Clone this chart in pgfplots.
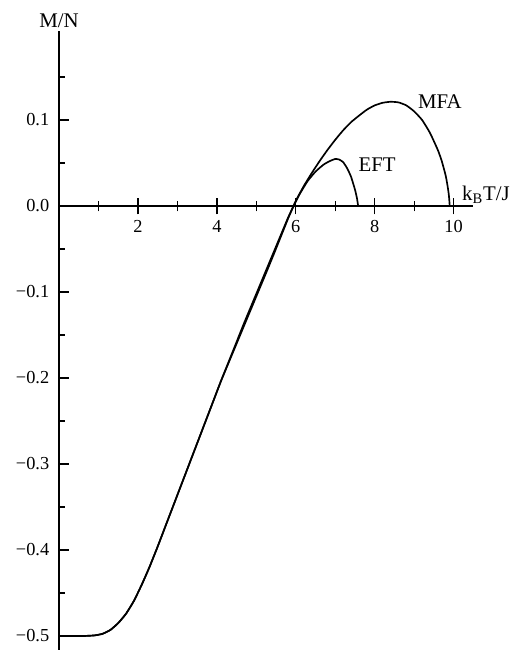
\documentclass[border=0pt]{standalone}
\usepackage{pgfplots}
\pgfplotsset{compat=1.18}
\usepackage{fontspec}
\setmainfont{Liberation Serif}
\pgfplotstableread{
x y
0.0 -0.5000
0.6 -0.5000
0.9 -0.4993
1.1 -0.4975
1.3 -0.4930
1.5 -0.4850
1.7 -0.4740
1.9 -0.4590
2.1 -0.4400
2.3 -0.4190
2.5 -0.3960
2.7 -0.3720
2.9 -0.3480
3.1 -0.3240
3.3 -0.3000
3.5 -0.2760
3.7 -0.2520
3.9 -0.2280
4.1 -0.2040
4.3 -0.1810
4.5 -0.1580
4.7 -0.1350
4.9 -0.1130
5.1 -0.0910
5.3 -0.0690
5.5 -0.0470
5.7 -0.0250
5.8 -0.0140
5.9 -0.0040
6.0 0.0060
6.2 0.0230
6.4 0.0380
6.6 0.0520
6.8 0.0650
7.0 0.0770
7.2 0.0880
7.4 0.0975
7.6 0.1050
7.8 0.1120
8.0 0.1170
8.2 0.1200
8.4 0.1212
8.6 0.1205
8.8 0.1170
9.0 0.1100
9.2 0.1000
9.4 0.0850
9.6 0.0650
9.7 0.0520
9.8 0.0350
9.85 0.0220
9.88 0.0120
9.9 0.0000
}\mfa
\pgfplotstableread{
x y
0.0 -0.5000
0.6 -0.5000
0.9 -0.4993
1.1 -0.4975
1.3 -0.4930
1.5 -0.4850
1.7 -0.4740
1.9 -0.4590
2.1 -0.4400
2.3 -0.4190
2.5 -0.3960
2.7 -0.3720
2.9 -0.3480
3.1 -0.3240
3.3 -0.3000
3.5 -0.2760
3.7 -0.2520
3.9 -0.2280
4.1 -0.2040
4.3 -0.1820
4.5 -0.1600
4.7 -0.1380
4.9 -0.1160
5.1 -0.0940
5.3 -0.0720
5.5 -0.0495
5.7 -0.0265
5.8 -0.0150
5.9 -0.0045
6.0 0.0050
6.1 0.0140
6.3 0.0290
6.5 0.0400
6.7 0.0480
6.85 0.0520
7.0 0.0547
7.1 0.0540
7.2 0.0510
7.3 0.0440
7.4 0.0340
7.5 0.0190
7.55 0.0090
7.58 0.0000
}\eft
\begin{document}
\fontsize{11}{13}\selectfont
\begin{tikzpicture}
\begin{axis}[
  x=23.68pt, y=516pt,
  xmin=0, xmax=10.49, ymin=-0.516, ymax=0.203,
  axis x line=middle,
  axis y line=left,
  axis line style={-, line width=0.9pt},
  xtick={2,4,6,8,10},
  minor xtick={1,3,5,7,9},
  ytick={-0.5,-0.4,-0.3,-0.2,-0.1,0,0.1},
  yticklabels={−0.5,−0.4,−0.3,−0.2,−0.1,0.0,0.1},
  minor ytick={-0.45,-0.35,-0.25,-0.15,-0.05,0.05,0.15},
  xtick align=center,
  ytick align=inside,
  major tick length=10pt,
  minor tick length=6.5pt,
  tick style={line width=0.8pt, black},
  y tick style={/pgfplots/major tick length=6pt, /pgfplots/minor tick length=3.5pt},
  /pgf/number format/assume math mode=true,
  ticklabel style={font=\fontsize{11}{13}\selectfont},
  yticklabel style={xshift=-2pt},
  xlabel={k\textsubscript{B}T/J},
  ylabel={M/N},
  every axis x label/.style={at={(rel axis cs:0.973,0.726)}, anchor=base west, inner sep=0pt, font=\fontsize{12.5}{14}\selectfont},
  every axis y label/.style={at={(rel axis cs:0,1)}, anchor=south, inner sep=2pt, font=\fontsize{12.5}{14}\selectfont},
  clip=false,
]
\addplot[black, line width=1pt, smooth, tension=0.3] table[x=x,y=y] {\mfa};
\addplot[black, line width=1pt, smooth, tension=0.3] table[x=x,y=y] {\eft};
\node[font=\fontsize{12.5}{14}\selectfont] at (axis cs:9.65,0.121) {MFA};
\node[font=\fontsize{12.5}{14}\selectfont] at (axis cs:8.06,0.048) {EFT};
\coordinate (O) at (axis cs:0,0);
\end{axis}
\pgfresetboundingbox
\path (O) ++(-35.4pt,-268.2pt) rectangle ++(309.6pt,391.8pt);
\end{tikzpicture}
\end{document}
